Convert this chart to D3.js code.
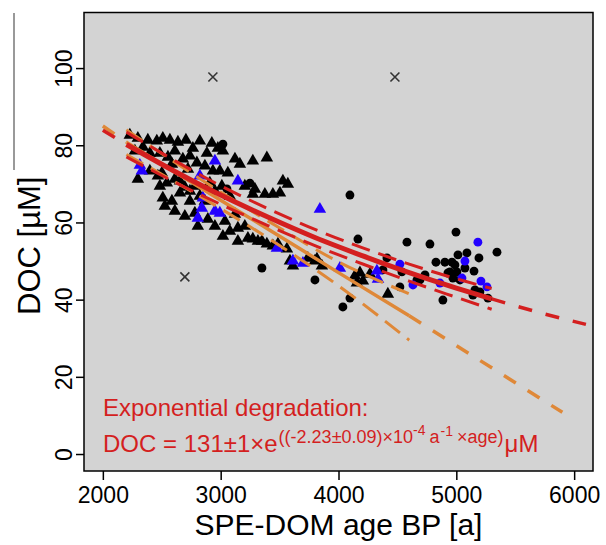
<!DOCTYPE html>
<html>
<head>
<meta charset="utf-8">
<script src="https://cdn.jsdelivr.net/npm/d3@7"></script>
<style>
  body { margin: 0; background: #ffffff; }
  svg { display: block; font-family: "Liberation Sans", Arial, sans-serif; }
</style>
</head>
<body>
<script>
// DOC vs SPE-DOM age
// axis ticks
const xTicks = [2000, 3000, 4000, 5000, 6000];
const yTicks = [0, 20, 40, 60, 80, 100];

// samples: [age BP, DOC]
const blackTriangles = [
  [2229, 82.9], [2297, 82.1], [2382, 81.6], [2458, 81.4], [2509, 82.1], [2569, 81.6],
  [2637, 81.1], [2705, 81.6], [2764, 79.5], [2823, 81.4], [2883, 78.2], [2925, 80.8],
  [2976, 79.5], [3019, 78.8], [3121, 76.7], [3273, 76.2], [3392, 77.0], [3163, 75.4],
  [2272, 78.8], [2340, 79.8], [2399, 78.2], [2484, 78.2], [2552, 77.2], [2611, 78.8],
  [2679, 76.7], [2739, 77.5], [2798, 75.7], [2866, 74.9], [2934, 73.6], [2993, 73.6],
  [3061, 73.1], [2586, 75.4], [2722, 74.1], [2297, 71.5], [2399, 73.6], [2467, 72.3],
  [2501, 73.1], [2543, 70.5], [2611, 71.5], [2654, 71.0], [2696, 69.4], [2739, 68.4],
  [2781, 69.7], [2823, 67.1], [2908, 70.5], [2951, 68.4], [3010, 69.7], [3078, 67.1],
  [2654, 67.9], [2739, 65.8], [2484, 69.7], [2509, 66.6], [2586, 65.8], [2866, 65.8],
  [3205, 69.7], [3273, 67.6], [3375, 67.6], [3443, 67.6], [3503, 67.9], [3528, 71.0],
  [3570, 70.2], [3290, 68.9], [2526, 64.5], [2611, 63.2], [2696, 61.9], [2781, 62.7],
  [2891, 61.1], [2951, 59.3], [3036, 60.6], [3121, 62.4], [2806, 59.3], [3019, 56.7],
  [3146, 58.8], [3146, 55.4], [3231, 56.2], [3273, 56.0], [3316, 55.4], [3350, 55.4],
  [3392, 54.7], [3443, 54.2], [3486, 54.7], [3562, 53.4], [3078, 58.0], [3205, 59.3],
  [3588, 50.3], [3613, 49.0], [3740, 51.0], [3817, 50.8], [3859, 49.0], [3800, 50.3],
  [4139, 46.4], [4182, 47.2], [4156, 44.6], [4207, 45.1], [4267, 46.9], [4419, 41.7]
];
const blueTriangles = [
  [2314, 75.1], [2331, 73.6], [2823, 72.3], [2806, 61.4], [2840, 64.0], [2951, 63.2],
  [2951, 76.2], [3146, 71.0], [2993, 62.7], [2849, 66.6], [3477, 53.6], [3613, 50.3],
  [3698, 49.7], [3842, 63.7], [4012, 48.4], [4326, 47.7], [4335, 45.6]
];
const blackCircles = [
  [3019, 80.3], [3053, 68.7], [3248, 70.2], [3350, 48.2], [4097, 67.1], [4165, 55.7],
  [4097, 40.4], [4037, 38.1], [3800, 45.1], [4411, 50.8], [4581, 54.9], [4776, 54.4],
  [4997, 57.5], [5345, 52.3], [4827, 49.7], [4903, 49.7], [5014, 51.6], [5090, 52.1],
  [5192, 50.8], [5150, 47.4], [4946, 47.2], [5005, 47.2], [4971, 45.6], [5031, 45.1],
  [4734, 46.4], [4691, 45.1], [4521, 43.3], [4538, 47.2], [4377, 47.7], [5158, 42.5],
  [5141, 41.2], [5200, 42.0], [5268, 40.4], [4666, 45.1], [4929, 46.9], [4886, 39.9],
  [5073, 48.2], [4988, 49.0], [4963, 49.7]
];
const blueCircles = [
  [5183, 54.9], [5073, 50.0], [5209, 44.8], [5260, 43.3], [5048, 45.6], [4861, 44.3],
  [4632, 43.8], [4521, 49.2]
];
const outliers = [[2696, 45.9], [2934, 97.7], [4479, 97.7]];

// exponential fit (red) and its band, read at these ages
const expAges = [2200, 2600, 3000, 3400, 3800, 4200, 4600, 5000, 5300];
const expFit = [80.2, 73.4, 67.1, 61.4, 56.1, 51.4, 47.0, 43.0, 40.2];
const expUpper = [83.4, 76.2, 69.5, 63.6, 58.2, 53.5, 49.2, 45.4, 42.9];
const expLower = [77.0, 70.6, 64.7, 59.2, 54.0, 49.3, 44.8, 40.6, 37.5];
const expLeftAges = [2000, 2200];
const expLeft = [83.9, 80.2];
const expRightAges = [5300, 5700, 6100];
const expRight = [40.2, 36.7, 33.6];

// linear fit (orange) and its band
const linAges = [2200, 2800, 3400, 4000, 4600];
const linFit = [80.8, 69.5, 58.3, 47.0, 35.8];
const linUpper = [84.0, 71.8, 60.4, 49.8, 41.5];
const linLower = [77.6, 67.2, 56.0, 43.6, 29.5];
const linLeftAges = [2000, 2200];
const linLeft = [85.0, 80.8];
const linRightAges = [4600, 5900];
const linRight = [35.8, 10.8];

(function() {
    const W = 606, H = 545;
    const box = {left: 84, top: 12.5, right: 593, bottom: 471};
    const red = "#d41f1f", orange = "#df8838", blue = "#2200ff";

    const svg = d3.select("body").append("svg")
        .attr("width", W)
        .attr("height", H);

    const x = d3.scaleLinear().domain([1840, 6160]).range([box.left, box.right]);
    const y = d3.scaleLinear().domain([-4.4, 114.4]).range([box.bottom, box.top]);

    // stray line at the left edge
    svg.append("line")
        .attr("x1", 14).attr("x2", 14).attr("y1", 13).attr("y2", 170)
        .attr("stroke", "#777").attr("stroke-width", 1.5);

    // panel background
    svg.append("rect")
        .attr("x", box.left).attr("y", box.top)
        .attr("width", box.right - box.left).attr("height", box.bottom - box.top)
        .attr("fill", "#d3d3d3");

    const plot = svg.append("g");

    // points
    const tri = d3.symbol().type(d3.symbolTriangle).size(68);
    const dot = d3.symbol().type(d3.symbolCircle).size(62);
    function drawPoints(data, sym, color) {
        plot.append("g").selectAll("path").data(data).join("path")
            .attr("d", sym)
            .attr("transform", d => `translate(${x(d[0])},${y(d[1]) + (sym === tri ? 1 : 0)})`)
            .attr("fill", color);
    }
    drawPoints(blackTriangles, tri, "#000");
    drawPoints(blackCircles, dot, "#000");
    drawPoints(blueTriangles, tri, blue);
    drawPoints(blueCircles, dot, blue);

    // outliers as crosses
    plot.append("g").selectAll("path").data(outliers).join("path")
        .attr("d", d => {
            const cx = x(d[0]), cy = y(d[1]), r = 4.5;
            return `M${cx - r},${cy - r}L${cx + r},${cy + r}M${cx - r},${cy + r}L${cx + r},${cy - r}`;
        })
        .attr("stroke", "#333").attr("stroke-width", 1.6).attr("fill", "none");

    // fit lines
    const line = d3.line().x(d => x(d[0])).y(d => y(d[1])).curve(d3.curveMonotoneX);
    function drawLine(ages, vals, color, width, dash) {
        plot.append("path")
            .datum(ages.map((a, i) => [a, vals[i]]))
            .attr("d", line)
            .attr("fill", "none")
            .attr("stroke", color)
            .attr("stroke-width", width)
            .attr("stroke-dasharray", dash || null);
    }
    drawLine(linAges, linUpper, orange, 3, "19,9");
    drawLine(linAges, linLower, orange, 3, "19,9");
    drawLine(linAges, linFit, orange, 3.5);
    drawLine(linLeftAges, linLeft, orange, 3.5, "14,14");
    drawLine(linRightAges, linRight, orange, 3.5, "14,14");

    drawLine(expAges, expUpper, red, 3, "19,9");
    drawLine(expAges, expLower, red, 3, "19,9");
    drawLine(expAges, expFit, red, 5);
    drawLine(expLeftAges, expLeft, red, 3.5, "14,14");
    drawLine(expRightAges, expRight, red, 3.5, "14,14");

    // equation text
    const note = svg.append("g").attr("fill", red);
    note.append("text")
        .attr("x", 103).attr("y", 416)
        .attr("font-size", 24)
        .text("Exponential degradation:");
    const eq = note.append("text").attr("x", 103).attr("y", 452).attr("font-size", 24);
    eq.append("tspan").text("DOC = 131±1×e");
    eq.append("tspan").attr("font-size", 18).attr("dy", -9).attr("dx", 1).text("((-2.23±0.09)×10");
    eq.append("tspan").attr("font-size", 14).attr("dy", -8).text("-4");
    eq.append("tspan").attr("font-size", 18).attr("dy", 8).attr("dx", 4).text("a");
    eq.append("tspan").attr("font-size", 14).attr("dy", -7).attr("dx", 1).text("-1");
    eq.append("tspan").attr("font-size", 18).attr("dy", 7).attr("dx", 4).text("×age)");
    eq.append("tspan").attr("dy", 9).attr("dx", 1).text("μM");

    // box
    svg.append("rect")
        .attr("x", box.left).attr("y", box.top)
        .attr("width", box.right - box.left).attr("height", box.bottom - box.top)
        .attr("fill", "none").attr("stroke", "#000").attr("stroke-width", 1.5);

    // x axis
    const gx = svg.append("g")
        .attr("transform", `translate(0,${box.bottom})`)
        .call(d3.axisBottom(x).tickValues(xTicks).tickSize(9).tickFormat(d3.format("d")));
    gx.select(".domain").remove();
    gx.selectAll(".tick line").attr("stroke", "#000").attr("stroke-width", 1.5);
    gx.selectAll(".tick text")
        .attr("y", 32).attr("dy", null)
        .attr("font-size", 23).attr("font-family", "Liberation Sans, Arial, sans-serif")
        .attr("fill", "#000");

    // y axis
    const gy = svg.append("g")
        .attr("transform", `translate(${box.left},0)`)
        .call(d3.axisLeft(y).tickValues(yTicks).tickSize(8));
    gy.select(".domain").remove();
    gy.selectAll(".tick line").attr("stroke", "#000").attr("stroke-width", 1.5);
    gy.selectAll(".tick text")
        .attr("transform", "rotate(-90)")
        .attr("x", 0).attr("y", -12).attr("dy", null)
        .attr("text-anchor", "middle")
        .attr("font-size", 23).attr("font-family", "Liberation Sans, Arial, sans-serif")
        .attr("fill", "#000");

    // axis titles
    svg.append("text")
        .attr("x", (box.left + box.right) / 2).attr("y", 535)
        .attr("text-anchor", "middle").attr("font-size", 30)
        .text("SPE-DOM age BP [a]");
    svg.append("text")
        .attr("transform", `translate(40,${(box.top + box.bottom) / 2 + 4}) rotate(-90)`)
        .attr("text-anchor", "middle").attr("font-size", 31)
        .text("DOC [µM]");
})();
</script>
</body>
</html>
